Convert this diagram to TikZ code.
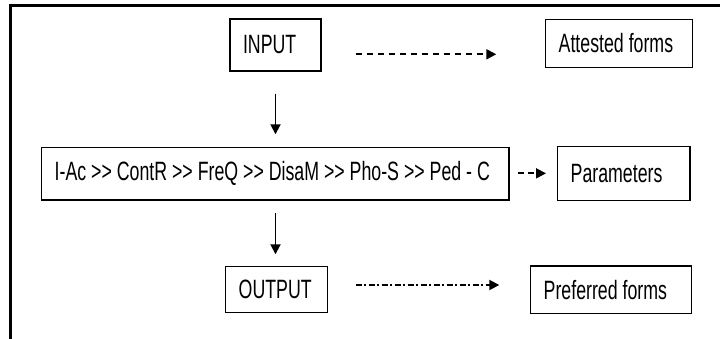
\documentclass[tikz,border=0pt]{standalone}
\usepackage{fontspec}
\setmainfont{Liberation Sans}[FakeStretch=0.67]
\usetikzlibrary{arrows.meta}

\tikzset{
  box/.style={draw, line width=1.4pt, inner xsep=13pt, inner ysep=0pt,
    minimum height=#1, font=\fontsize{26.5}{30}\selectfont},
  flow/.style={line width=1.8pt, -{Triangle[length=10pt,width=10pt]}},
  dashflow/.style={flow, dash pattern=on 6pt off 5pt},
  dotdashflow/.style={flow, dash pattern=on 6pt off 2.5pt on 2pt off 2.5pt},
  frameline/.style={line width=2.6pt}
}

\begin{document}
\begin{tikzpicture}[x=1pt, y=-1pt]
\useasboundingbox (0,0) rectangle (720,339);

% open frame: top and left edges only
\coordinate (fr) at (720,5.5);
\coordinate (fc) at (10.5,5.5);
\coordinate (fb) at (10.5,339);
\draw[frameline] (fr) -- (fc) -- (fb);

% boxes
\node[box=52pt]   (input)    at (275.5,45)    {\makebox[65pt][l]{INPUT}};
\node[box=48.4pt] (attested) at (619,43.5)    {\makebox[120.6pt][l]{Attested forms}};
\node[box=52.3pt] (proc)     at (275.35,173.85) {\makebox[441.3pt][l]{I-Ac >{}> ContR >{}> FreQ >{}> DisaM >{}> Pho-S >{}> Ped - C}};
\node[box=53.6pt] (params)   at (623.85,173.5) {\makebox[106.3pt][l]{Parameters}};
\node[box=46pt]   (out)      at (276.7,289.7) {\makebox[76pt][l]{OUTPUT}};
\node[box=47.3pt] (pref)     at (611.2,289.65) {\makebox[135pt][l]{Preferred forms}};

% vertical flow
\draw[flow, shorten <=22pt, shorten >=12.7pt]
  (input.south) -- (input.south |- proc.north);
\draw[flow, shorten <=12.7pt, shorten >=11.7pt]
  (input.south |- proc.south) -- (input.south |- out.north);

% side arrows
\draw[dashflow, shorten <=34pt, shorten >=48.7pt]
  ([yshift=-9.3pt]input.east) -- ([yshift=-9.3pt]input.east -| attested.west);
\draw[flow, dash pattern=on 6pt off 4pt, shorten <=8.7pt, shorten >=11pt]
  ([yshift=0.5pt]proc.east) -- ([yshift=0.5pt]proc.east -| params.west);
\draw[dotdashflow, shorten <=27.3pt, shorten >=30.7pt]
  ([yshift=4.7pt]out.east) -- ([yshift=4.7pt]out.east -| pref.west);
\end{tikzpicture}
\end{document}
